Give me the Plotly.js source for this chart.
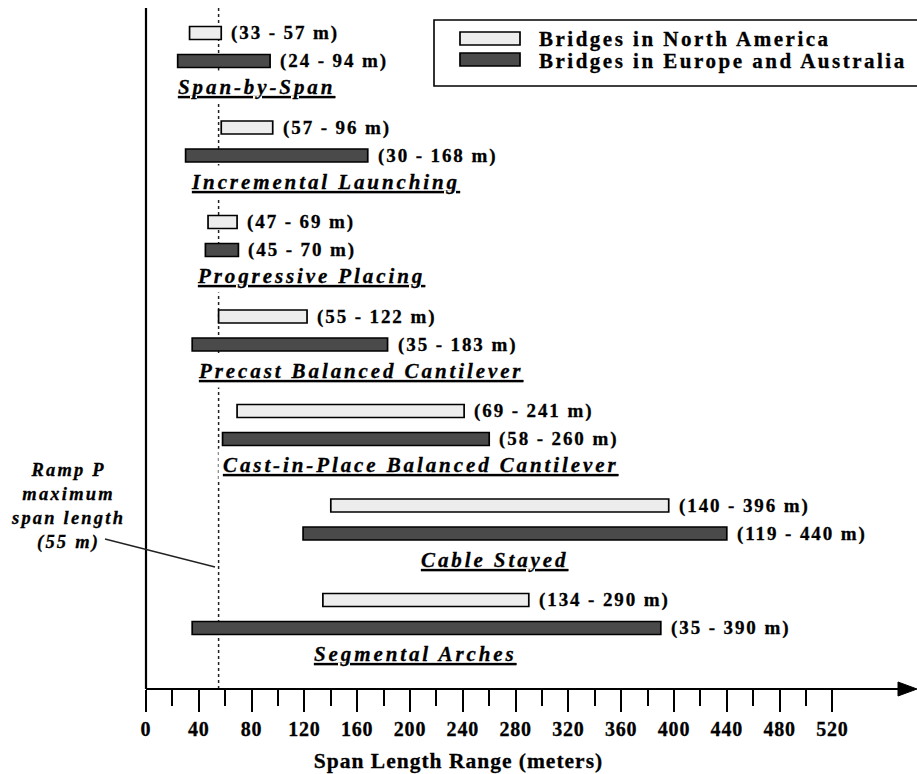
<!DOCTYPE html>
<html><head><meta charset="utf-8">
<script src="https://cdn.plot.ly/plotly-3.0.1.min.js"></script>
<style>html,body{margin:0;padding:0;background:#fff;overflow:hidden}#chart{width:917px;height:774px}
#chart svg text{stroke:#000;stroke-width:0.3px}</style>
</head><body><div id="chart"></div>
<script>
// ---------- data ----------
const categories = ['Span-by-Span', 'Incremental Launching', 'Progressive Placing',
  'Precast Balanced Cantilever', 'Cast-in-Place Balanced Cantilever', 'Cable Stayed', 'Segmental Arches'];
const naMin = [33, 57, 47, 55, 69, 140, 134];
const naMax = [57, 96, 69, 122, 241, 396, 290];
const euMin = [24, 30, 45, 35, 58, 119, 35];
const euMax = [94, 168, 70, 183, 260, 440, 390];
const seriesNames = ['Bridges in North America', 'Bridges in Europe and Australia'];
const tickVals = [0, 40, 80, 120, 160, 200, 240, 280, 320, 360, 400, 440, 480, 520];
const tickLabels = ['0', '40', '80', '120', '160', '200', '240', '280', '320', '360', '400', '440', '480', '520'];
const minorTickVals = [20, 60, 100, 140, 180, 220, 260, 300, 340, 380, 420, 460, 500];
const rampValue = 55;
const rampLabel = ['Ramp P', 'maximum', 'span length', '(55 m)'];
const axisTitle = 'Span Length Range (meters)';

// ---------- layout constants ----------
const W = 917, H = 774;
const X0 = 146;          // pixel of value 0
const PXU = 1.32;        // pixels per metre
const AXY = 689;         // pixel row of the x axis
const ROW0 = 33, ROWSTEP = 94.5, EUOFF = 28, LABOFF = 54;
const catLabelPx = [256, 325, 311, 360, 421, 494, 415];
const FONT = 'Liberation Serif, "Times New Roman", serif';
const NA_FILL = '#ededed', EU_FILL = '#4a4a4a';

const dx = p => (p - X0) / PXU;       // pixel -> data x
const px = p => p / W;                // pixel -> paper x
const py = p => (AXY - p) / AXY;      // pixel -> paper y
const sp = (s, ls, extra) => `<span style="letter-spacing:${ls}px${extra ? ';' + extra : ''}">${s}</span>`;

const rows = categories.map((c, i) => ROW0 + ROWSTEP * i);
const rowsEU = rows.map(r => r + EUOFF);

const traces = [
  {
    type: 'bar', orientation: 'h', name: seriesNames[0],
    y: rows, base: naMin, x: naMax.map((v, i) => v - naMin[i]), width: 13,
    marker: { color: NA_FILL, line: { color: '#000', width: 1.7 } },
    hoverinfo: 'skip', showlegend: false
  },
  {
    type: 'bar', orientation: 'h', name: seriesNames[1],
    y: rowsEU, base: euMin, x: euMax.map((v, i) => v - euMin[i]), width: 13,
    marker: { color: EU_FILL, line: { color: '#000', width: 1.7 } },
    hoverinfo: 'skip', showlegend: false
  }
];

const annotations = [];
categories.forEach((c, i) => {
  annotations.push({
    x: naMax[i], y: rows[i], xref: 'x', yref: 'y', xanchor: 'left', yanchor: 'middle', xshift: 8,
    text: sp(`(${naMin[i]} - ${naMax[i]} m)`, 1.9), showarrow: false,
    font: { family: FONT, size: 19, color: '#000', weight: 'bold' }
  });
  annotations.push({
    x: euMax[i], y: rowsEU[i], xref: 'x', yref: 'y', xanchor: 'left', yanchor: 'middle', xshift: 8,
    text: sp(`(${euMin[i]} - ${euMax[i]} m)`, 1.9), showarrow: false,
    font: { family: FONT, size: 19, color: '#000', weight: 'bold' }
  });
  annotations.push({
    x: dx(catLabelPx[i]), y: rows[i] + LABOFF, xref: 'x', yref: 'y', xanchor: 'center', yanchor: 'middle',
    text: sp(c, 2.9, 'text-decoration:underline;text-decoration-thickness:2px'), showarrow: false,
    bgcolor: '#fff', borderpad: 4,
    font: { family: FONT, size: 21, color: '#000', weight: 'bold', style: 'italic' }
  });
});
// legend texts
annotations.push({
  x: px(537), y: py(38.5), xref: 'paper', yref: 'paper', xanchor: 'left', yanchor: 'middle',
  text: sp(seriesNames[0], 2.5), showarrow: false,
  font: { family: FONT, size: 21, color: '#000', weight: 'bold' }
});
annotations.push({
  x: px(537), y: py(60.5), xref: 'paper', yref: 'paper', xanchor: 'left', yanchor: 'middle',
  text: sp(seriesNames[1], 2.5), showarrow: false,
  font: { family: FONT, size: 21, color: '#000', weight: 'bold' }
});
// Ramp P note
annotations.push({
  x: px(68), y: py(506), xref: 'paper', yref: 'paper', xanchor: 'center', yanchor: 'middle',
  text: rampLabel.map(s => sp(s, 2.2)).join('<br>'), showarrow: false, align: 'center',
  font: { family: FONT, size: 18.5, color: '#000', weight: 'bold', style: 'italic' }
});

const shapes = [
  // Ramp P reference line
  { type: 'line', xref: 'x', yref: 'y', x0: rampValue, x1: rampValue, y0: 8, y1: AXY, layer: 'below',
    line: { color: '#222', width: 1.5, dash: 'dot' } },
  // y axis line
  { type: 'line', xref: 'paper', yref: 'paper', x0: px(X0), x1: px(X0), y0: py(8), y1: py(AXY),
    line: { color: '#000', width: 2.2 } },
  // x axis line
  { type: 'line', xref: 'paper', yref: 'paper', x0: px(X0), x1: px(905), y0: py(AXY), y1: py(AXY),
    line: { color: '#000', width: 2.2 } },
  // arrow head
  { type: 'path', xref: 'paper', yref: 'paper',
    path: `M ${px(898)},${py(AXY - 7)} L ${px(917)},${py(AXY)} L ${px(898)},${py(AXY + 7)} Z`,
    fillcolor: '#000', line: { color: '#000', width: 1 } },
  // leader line for note
  { type: 'line', xref: 'paper', yref: 'paper', x0: px(105), y0: py(539), x1: px(215), y1: py(567),
    line: { color: '#222', width: 1.3 } },
  // legend box
  { type: 'rect', xref: 'paper', yref: 'paper', x0: px(434), x1: px(940), y0: py(20), y1: py(86),
    line: { color: '#000', width: 1.6 }, fillcolor: '#fff', layer: 'below' },
  // legend swatches
  { type: 'rect', xref: 'paper', yref: 'paper', x0: px(460), x1: px(520), y0: py(32), y1: py(45),
    line: { color: '#000', width: 1.7 }, fillcolor: NA_FILL },
  { type: 'rect', xref: 'paper', yref: 'paper', x0: px(460), x1: px(520), y0: py(53), y1: py(66),
    line: { color: '#000', width: 1.7 }, fillcolor: EU_FILL }
];

const layout = {
  width: W, height: H,
  margin: { l: 0, r: 0, t: 0, b: H - AXY, pad: 0 },
  paper_bgcolor: '#fff', plot_bgcolor: '#fff',
  barmode: 'overlay', showlegend: false,
  xaxis: {
    range: [dx(0), dx(W)], fixedrange: true,
    tickmode: 'array', tickvals: tickVals, ticktext: tickLabels.map(t => sp(t, 0.8)),
    ticks: 'outside', ticklen: 22, tickwidth: 2, tickcolor: '#000',
    showgrid: false, zeroline: false, showline: false,
    tickfont: { family: FONT, size: 20, color: '#000', weight: 'bold' },
    minor: { tickmode: 'array', tickvals: minorTickVals, ticks: 'outside', ticklen: 16, tickwidth: 2,
      tickcolor: '#000', showgrid: false },
    title: { text: sp(axisTitle, 1), standoff: 13,
      font: { family: FONT, size: 21.5, color: '#000', weight: 'bold' } }
  },
  yaxis: {
    range: [AXY, 0], fixedrange: true, visible: false, showgrid: false, zeroline: false
  },
  annotations: annotations,
  shapes: shapes
};

Plotly.newPlot('chart', traces, layout, { displayModeBar: false, staticPlot: true });
</script>
</body></html>
